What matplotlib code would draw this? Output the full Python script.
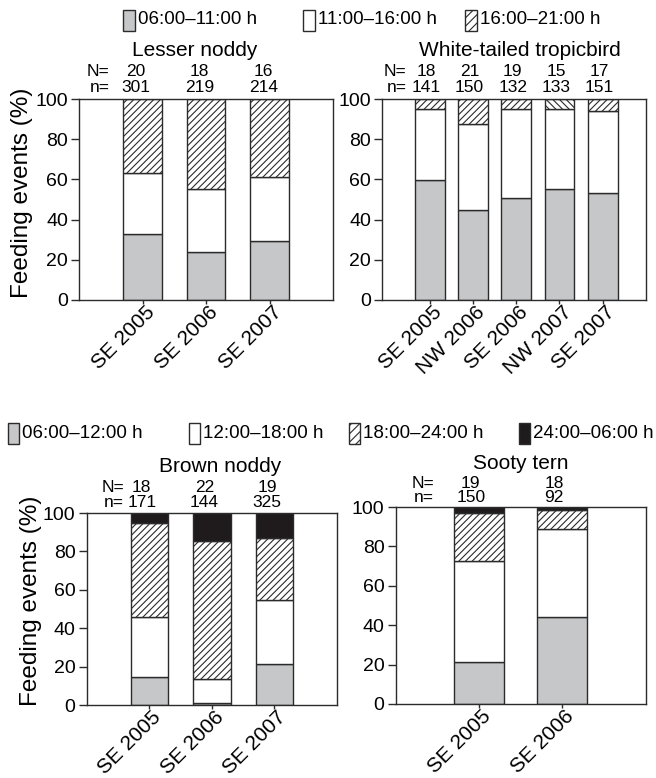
import matplotlib
matplotlib.use("Agg")
import matplotlib.pyplot as plt
from matplotlib.patches import Rectangle
import matplotlib.transforms as mtransforms
import numpy as np

# ---------------- data ----------------
lesser_cats = ["SE 2005", "SE 2006", "SE 2007"]
lesser_am = [32.7, 23.7, 29.2]
lesser_mid = [30.6, 31.4, 32.2]
lesser_pm = [36.7, 44.9, 38.6]
lesser_N = [20, 18, 16]
lesser_n = [301, 219, 214]

trop_cats = ["SE 2005", "NW 2006", "SE 2006", "NW 2007", "SE 2007"]
trop_am = [59.7, 44.8, 50.9, 55.1, 53.1]
trop_mid = [35.2, 42.8, 44.0, 39.8, 40.8]
trop_pm = [5.1, 12.4, 5.1, 5.1, 6.1]
trop_N = [18, 21, 19, 15, 17]
trop_n = [141, 150, 132, 133, 151]

brown_cats = ["SE 2005", "SE 2006", "SE 2007"]
brown_morning = [14.6, 1.0, 21.2]
brown_day = [31.1, 12.4, 33.5]
brown_evening = [48.9, 72.0, 32.1]
brown_night = [5.4, 14.6, 13.2]
brown_N = [18, 22, 19]
brown_n = [171, 144, 325]

sooty_cats = ["SE 2005", "SE 2006"]
sooty_morning = [21.5, 44.0]
sooty_day = [51.1, 44.7]
sooty_evening = [24.5, 9.8]
sooty_night = [2.9, 1.5]
sooty_N = [19, 18]
sooty_n = [150, 92]

legend_top = ["06:00\u201311:00 h", "11:00\u201316:00 h", "16:00\u201321:00 h"]
legend_bottom = ["06:00\u201312:00 h", "12:00\u201318:00 h", "18:00\u201324:00 h", "24:00\u201306:00 h"]

# ---------------- style ----------------
W, H, DPI = 656, 778, 100
plt.rcParams["font.family"] = ["Liberation Sans", "DejaVu Sans"]
plt.rcParams["hatch.linewidth"] = 0.8
GREY = "#c6c7c9"
EDGE = "#2b2b2b"
BLACK = "#1f1b1c"
HATCH = "/////"
HATCH_BACK = "\\\\\\\\\\"
FS_TICK = 14
FS_XTICK = 15
FS_TITLE = 15
FS_NUM = 12.5
FS_LEG = 13.5
FS_YLAB = 17.5

fig = plt.figure(figsize=(W / DPI, H / DPI), dpi=DPI)


def fx(px):
    return px / W


def fy(py):
    return 1 - py / H


def make_axes(x0, y0, x1, y1):
    return fig.add_axes([fx(x0), fy(y1), fx(x1) - fx(x0), fy(y0) - fy(y1)])


def style_axes(ax, cats, xlim):
    ax.set_xlim(*xlim)
    ax.set_ylim(0, 100)
    ax.set_yticks([0, 20, 40, 60, 80, 100])
    ax.set_xticks(np.arange(len(cats)))
    ax.set_xticklabels(cats, rotation=45, ha="right", va="center",
                       rotation_mode="anchor", fontsize=FS_XTICK)
    ax.tick_params(axis="y", direction="out", length=6, width=1.0,
                   labelsize=FS_TICK, pad=2, color=EDGE)
    ax.tick_params(axis="x", direction="out", length=3, width=1.0, pad=4,
                   color=EDGE)
    shift = mtransforms.ScaledTranslation(9 / DPI, 0, fig.dpi_scale_trans)
    for lab in ax.get_xticklabels():
        lab.set_transform(lab.get_transform() + shift)
    for s in ax.spines.values():
        s.set_linewidth(1.0)
        s.set_color(EDGE)


def stacked(ax, layers, width):
    x = np.arange(len(layers[0][0]))
    bottom = np.zeros(len(x))
    for vals, color, hatch in layers:
        vals = np.array(vals, dtype=float)
        ax.bar(x, vals, width=width, bottom=bottom, color=color,
               edgecolor=EDGE, linewidth=1.0, hatch=hatch, zorder=2)
        bottom += vals
    return x


def header(ax, Ns, ns, x_off, lab_dx_px, yN, yn):
    inv = fig.transFigure.inverted()
    for i, (N, n) in enumerate(zip(Ns, ns)):
        xf = inv.transform(ax.transData.transform((i + x_off, 0)))[0]
        fig.text(xf, fy(yN), str(N), ha="center", va="center", fontsize=FS_NUM)
        fig.text(xf, fy(yn), str(n), ha="center", va="center", fontsize=FS_NUM)
    x0 = inv.transform(ax.transData.transform((0, 0)))[0]
    xl = x0 + lab_dx_px / W
    fig.text(xl, fy(yN), "N=", ha="right", va="center", fontsize=FS_NUM)
    fig.text(xl, fy(yn), "n=", ha="right", va="center", fontsize=FS_NUM)


# ---------------- Lesser noddy ----------------
ax1 = make_axes(79, 99, 333, 300)
stacked(ax1, [(lesser_am, GREY, None), (lesser_mid, "white", None),
              (lesser_pm, "white", HATCH)], 0.6)
style_axes(ax1, lesser_cats, (-1, 3))
fig.text(fx(195), fy(50), "Lesser noddy", ha="center", va="center", fontsize=FS_TITLE)
header(ax1, lesser_N, lesser_n, -0.1, -33, 71, 87)

# ---------------- White-tailed tropicbird ----------------
ax2 = make_axes(382, 99, 646, 300)
x2 = np.arange(len(trop_cats))
ax2.bar(x2, trop_am, width=0.69, color=GREY, edgecolor=EDGE, linewidth=1.0, zorder=2)
ax2.bar(x2, trop_mid, width=0.69, bottom=trop_am, color="white",
        edgecolor=EDGE, linewidth=1.0, zorder=2)
top_base = np.array(trop_am) + np.array(trop_mid)
for i, c in enumerate(trop_cats):
    h = HATCH_BACK if c == "NW 2007" else HATCH
    ax2.bar(x2[i], trop_pm[i], width=0.69, bottom=top_base[i], color="white",
            edgecolor=EDGE, linewidth=1.0, hatch=h, zorder=2)
style_axes(ax2, trop_cats, (-1.1, 5.0))
fig.text(fx(520), fy(50), "White-tailed tropicbird", ha="center", va="center", fontsize=FS_TITLE)
header(ax2, trop_N, trop_n, -0.08, -23, 71, 87)

# ---------------- Brown noddy ----------------
ax3 = make_axes(86.7, 513, 337, 705)
stacked(ax3, [(brown_morning, GREY, None), (brown_day, "white", None),
              (brown_evening, "white", HATCH), (brown_night, BLACK, None)], 0.6)
style_axes(ax3, brown_cats, (-1, 3))
fig.text(fx(220), fy(466), "Brown noddy", ha="center", va="center", fontsize=FS_TITLE)
header(ax3, brown_N, brown_n, -0.12, -25, 488, 502)

# ---------------- Sooty tern ----------------
ax4 = make_axes(395.7, 507, 645.7, 704)
stacked(ax4, [(sooty_morning, GREY, None), (sooty_day, "white", None),
              (sooty_evening, "white", HATCH), (sooty_night, BLACK, None)], 0.6)
style_axes(ax4, sooty_cats, (-1, 2))
fig.text(fx(521), fy(463), "Sooty tern", ha="center", va="center", fontsize=FS_TITLE)
header(ax4, sooty_N, sooty_n, -0.1, -45, 483, 497)

# y labels
fig.text(fx(22), fy(193), "Feeding events (%)", rotation=90, ha="center",
         va="center", fontsize=FS_YLAB)
fig.text(fx(31), fy(601), "Feeding events (%)", rotation=90, ha="center",
         va="center", fontsize=FS_YLAB)


# ---------------- legends (manual) ----------------
def leg_item(px, py, label, face, hatch=None, w=12, h=21):
    r = Rectangle((fx(px), fy(py + h / 2)), w / W, h / H, transform=fig.transFigure,
                  facecolor=face, edgecolor=EDGE, linewidth=1.0, hatch=hatch)
    fig.patches.append(r)
    fig.text(fx(px + w + 3), fy(py), label, ha="left", va="center", fontsize=FS_LEG)


leg_item(123, 20, legend_top[0], GREY)
leg_item(303, 20, legend_top[1], "white")
leg_item(465, 20, legend_top[2], "white", "////")

leg_item(8, 433, legend_bottom[0], GREY, w=11)
leg_item(189, 433, legend_bottom[1], "white", w=11)
leg_item(349, 433, legend_bottom[2], "white", "////", w=11)
leg_item(519, 433, legend_bottom[3], BLACK, w=11)

fig.savefig("out.png", dpi=DPI)
